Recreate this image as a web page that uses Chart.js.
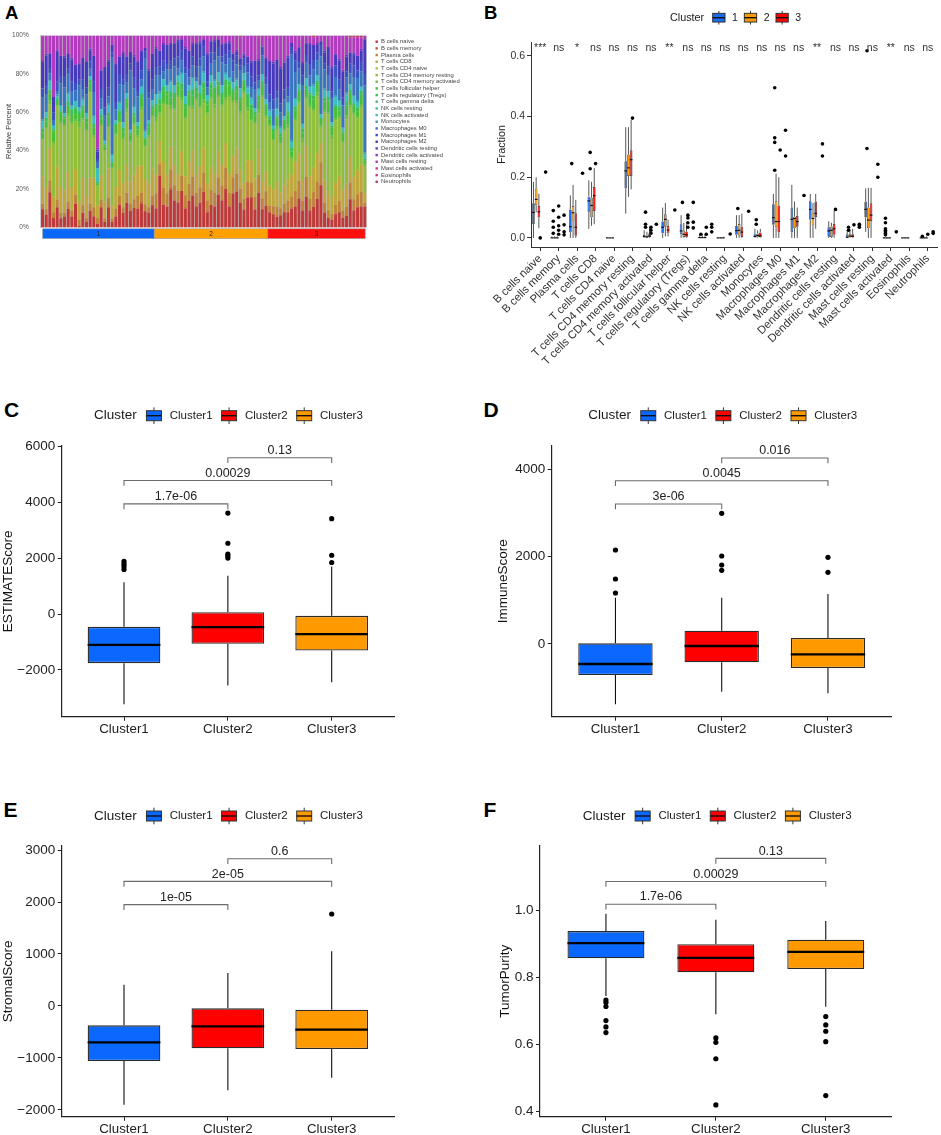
<!DOCTYPE html>
<html><head><meta charset="utf-8">
<script src="https://cdn.jsdelivr.net/npm/chart.js@4/dist/chart.umd.min.js"></script>
<style>
html,body{margin:0;padding:0;background:#fff}
body{width:941px;height:1135px;position:relative;overflow:hidden;font-family:'Liberation Sans',Arial,Helvetica,sans-serif}
.pnl{position:absolute}
.lab{position:absolute;font-weight:bold;line-height:1;color:#000}
</style></head><body>
<div class="lab" style="left:5px;top:4.3px;font-size:18.5px">A</div>
<div class="lab" style="left:484px;top:3.6px;font-size:18.5px">B</div>
<div class="lab" style="left:4px;top:399px;font-size:21px">C</div>
<div class="lab" style="left:483.5px;top:399px;font-size:21px">D</div>
<div class="lab" style="left:3.5px;top:799px;font-size:21px">E</div>
<div class="lab" style="left:483.5px;top:799px;font-size:21px">F</div>
<div class="pnl" style="left:0;top:0;width:470px;height:250px"><canvas id="cA"></canvas></div>
<div class="pnl" style="left:470px;top:0;width:471px;height:372px"><canvas id="cB"></canvas></div>
<div class="pnl" style="left:0;top:372px;width:470px;height:388px"><canvas id="cC"></canvas></div>
<div class="pnl" style="left:470px;top:372px;width:471px;height:388px"><canvas id="cD"></canvas></div>
<div class="pnl" style="left:0;top:770px;width:470px;height:365px"><canvas id="cE"></canvas></div>
<div class="pnl" style="left:470px;top:770px;width:471px;height:365px"><canvas id="cF"></canvas></div>
<script>
const FONT = "'Liberation Sans', Arial, Helvetica, sans-serif";

// ================= Panel A data (relative percent per sample) =================
const cellTypes = ['B cells naive','B cells memory','Plasma cells','T cells CD8','T cells CD4 naive',
  'T cells CD4 memory resting','T cells CD4 memory activated','T cells follicular helper',
  'T cells regulatory (Tregs)','T cells gamma delta','NK cells resting','NK cells activated',
  'Monocytes','Macrophages M0','Macrophages M1','Macrophages M2','Dendritic cells resting',
  'Dendritic cells activated','Mast cells resting','Mast cells activated','Eosinophils','Neutrophils'];
const cellColors = ['#bf3939','#bf5e39','#bf8239','#bfa739','#b3bf39','#8fbf39','#6abf39','#46bf39',
  '#39bf52','#39bf76','#39bf9b','#39bfbf','#399bbf','#3976bf','#3952bf','#4639bf','#6a39bf',
  '#8f39bf','#b339bf','#bf39a7','#bf3982','#bf395e'];
const clusterLabelsA = ['1','2','3'];
const clusterSizesA = [31, 31, 27];
const clusterColorsA = ['#0a68ff','#ffa000','#ff1010'];
const pctTicks = [0, 0.2, 0.4, 0.6, 0.8, 1];

const bCellsNaive = [10,7,19,5,11,5,6,10,6,13,1,8,3,9,6,2,11,3,11,3,6,13,8,14,9,11,10,13,9,8,12,
  10,27,12,11,20,14,13,19,10,14,17,11,13,19,8,12,11,17,14,20,11,19,20,14,10,17,17,10,19,10,12,
  9,8,6,7,9,9,10,11,15,9,16,9,11,15,22,8,5,4,7,8,5,6,15,9,11,11,11];
const bCellsMemory = [0,0,1,0,0,0,0,0,0,0,0,0,0,0,0,0,0,0,0,0,0,0,0,0,0,0,0,1,0,0,0,
  0,0,0,0,1,0,0,0,0,0,0,0,0,0,0,0,0,0,0,0,0,0,0,0,0,0,0,0,0,0,0,
  0,0,0,0,0,0,0,0,0,0,0,0,0,0,0,0,0,0,0,0,0,0,0,0,0,0,0];
const plasmaCells = [3,3,6,3,4,3,2,4,3,5,3,4,2,4,5,3,4,2,5,2,4,5,3,6,4,5,7,5,4,3,5,
  8,6,9,7,10,8,6,8,7,9,10,7,8,10,6,8,7,9,8,11,7,9,10,8,6,9,8,7,10,6,8,
  4,5,6,4,5,7,6,8,9,5,10,6,8,9,12,5,4,3,5,6,4,5,9,6,7,8,2];
const tCellsCD8 = [15,12,18,8,18,14,12,16,13,14,10,15,12,14,16,7,13,9,16,7,12,15,13,16,12,14,16,15,14,13,15,
  10,12,14,10,12,11,9,13,10,12,14,10,11,13,9,12,10,14,11,13,10,12,14,11,9,12,13,10,14,9,11,
  12,10,14,9,11,13,12,15,14,11,16,12,13,15,10,12,10,9,12,13,11,12,14,12,13,14,5];
const tCellsCD4Naive = [0,0,0,0,0,0,0,0,0,0,0,0,0,0,0,0,0,0,0,0,0,0,0,0,0,0,0,0,0,0,0,
  0,0,0,0,0,0,0,0,0,0,0,0,0,0,0,0,0,0,0,0,0,0,0,0,0,0,0,0,0,0,0,
  0,0,0,0,0,0,0,0,0,0,0,0,0,0,0,0,0,0,0,0,0,0,0,0,0,0,0];
const tCD4MemResting = [20,32,24,28,33,34,35,30,34,26,40,31,35,46,22,10,27,28,22,20,28,27,24,30,21,28,16,30,18,25,28,
  28,14,30,36,20,28,40,26,30,28,22,38,30,24,36,36,34,28,30,22,40,30,25,32,50,28,22,30,20,46,30,
  35,30,30,28,32,30,8,22,26,20,24,36,30,30,8,36,40,30,33,30,25,34,26,33,28,30,14];
const tCD4MemActivated = [1,1,2,1,0,1,1,2,1,1,3,1,1,1,1,0,1,0,1,0,1,1,1,2,1,1,1,2,1,1,1,
  2,1,1,1,2,1,1,2,1,1,2,1,1,2,1,1,2,1,1,2,1,1,2,1,1,2,1,1,2,1,1,
  1,1,2,1,1,2,1,1,1,2,1,1,1,2,1,1,1,2,1,1,1,2,1,1,1,2,1];
const tFollicularHelper = [3,3,4,5,2,4,3,4,5,3,4,5,4,4,4,1,3,2,5,2,4,4,3,4,3,4,3,5,3,4,3,
  5,4,6,5,4,6,5,4,5,6,5,4,5,6,4,5,6,5,4,6,5,4,5,6,4,5,6,4,5,6,4,
  3,4,5,3,4,6,3,4,5,3,4,6,5,4,3,5,6,4,5,3,4,5,6,4,3,5,2];
const tRegs = [2,2,2,1,2,2,1,2,2,3,2,2,2,2,2,1,2,1,2,1,1,2,2,2,1,2,2,2,1,2,2,
  2,3,2,2,3,2,2,3,2,2,3,2,2,3,2,2,3,2,2,3,2,2,3,2,2,3,2,2,3,2,2,
  2,2,1,2,2,1,2,2,1,2,2,1,2,2,1,2,2,1,2,2,1,2,2,1,2,2,1];
const tGammaDelta = [0,0,0,0,0,0,0,0,0,1,0,0,0,0,0,0,0,0,0,0,0,0,0,0,0,0,0,0,0,0,0,
  0,0,0,0,0,0,0,0,0,0,0,0,0,0,0,1,0,0,0,0,0,0,0,0,0,0,0,0,0,0,0,
  0,0,0,0,0,1,0,0,0,0,0,0,0,0,0,0,0,0,0,0,0,0,0,0,0,0,0];
const nkResting = [0,0,0,0,0,0,0,0,0,0,0,0,0,0,0,0,0,0,0,0,0,0,0,0,0,0,0,0,0,0,0,
  0,0,0,0,0,0,0,0,0,0,1,0,0,0,0,0,0,0,0,0,0,0,0,0,0,0,0,0,0,0,0,
  0,0,0,0,0,0,0,0,0,0,0,0,0,0,0,0,0,0,0,0,0,0,0,0,0,0,0];
const nkActivated = [4,3,5,2,1,3,2,4,2,3,2,3,3,2,4,7,3,2,4,4,2,4,3,3,2,3,2,4,3,2,3,
  5,3,4,3,5,4,3,5,4,3,5,3,4,5,3,4,3,5,4,3,2,4,3,5,4,3,4,2,3,4,3,
  3,2,4,3,2,5,3,4,3,2,4,3,5,3,2,4,3,2,4,3,2,4,3,4,3,2,2];
const monocytes = [1,0,0,0,1,0,0,1,0,0,0,1,0,0,1,0,0,0,1,0,0,1,0,0,0,1,0,0,1,0,0,
  0,1,0,0,1,0,0,1,0,0,1,0,0,1,0,0,1,0,0,1,0,0,1,0,0,1,0,0,1,0,0,
  1,0,0,1,0,0,1,0,0,1,0,0,1,0,0,1,0,0,1,0,0,1,0,0,1,0,1];
const macrophagesM0 = [12,10,4,3,2,12,14,10,8,6,12,5,10,4,12,3,6,14,4,52,6,10,20,6,32,10,14,4,40,12,6,
  10,8,4,8,6,10,4,6,12,4,6,2,10,8,4,6,10,8,12,4,10,6,8,10,4,8,6,10,4,10,8,
  4,10,6,8,10,4,45,14,8,20,8,6,8,8,30,10,8,12,10,6,12,8,6,10,12,8,35];
const macrophagesM1 = [5,4,3,4,5,4,6,3,5,4,3,5,4,4,6,2,5,4,5,3,4,6,3,5,4,6,3,5,4,3,5,
  4,5,6,3,5,4,6,5,3,4,5,6,4,5,3,6,4,5,3,5,4,6,5,3,4,5,6,4,3,5,4,
  5,6,4,5,6,5,4,6,3,5,4,6,5,4,6,3,5,4,6,5,4,3,5,6,4,5,6];
const macrophagesM2 = [14,17,8,8,16,11,10,8,12,10,8,12,14,6,14,4,10,22,14,4,20,10,14,10,6,12,16,10,2,12,14,
  10,8,8,10,8,8,8,6,10,10,6,12,8,4,14,6,6,4,6,6,4,4,2,4,2,4,8,12,8,0,10,
  20,22,18,20,16,18,2,4,8,6,6,10,8,4,2,6,10,12,6,10,14,8,6,6,8,6,18];
const dcResting = [1,1,0,0,1,0,1,0,1,0,1,0,0,1,0,1,0,0,1,0,1,0,1,0,0,1,0,1,0,1,0,
  1,0,1,0,1,0,1,0,1,0,1,0,1,0,1,0,1,0,1,0,1,0,1,0,1,0,1,0,1,0,1,
  0,1,0,1,0,1,0,1,0,1,0,1,0,1,0,1,0,1,0,1,0,1,0,1,0,1,0];
const dcActivated = [0,0,0,0,0,0,0,0,0,0,0,0,0,0,0,1,0,0,0,0,0,0,0,0,0,0,0,0,0,0,0,
  0,0,0,0,0,0,0,0,0,0,0,0,0,0,0,0,0,0,0,0,0,0,0,0,0,0,0,0,0,0,0,
  0,0,0,0,0,0,0,0,0,0,0,0,0,0,0,0,0,0,0,0,1,0,0,0,0,0,0];
const mastResting = [14,10,10,32,8,11,11,10,12,16,15,12,14,7,11,59,19,17,13,5,15,12,9,12,9,11,14,8,7,18,10,
  6,8,4,5,4,4,2,2,6,8,4,4,3,2,9,3,2,2,4,4,3,10,8,12,10,12,14,14,12,6,12,
  14,16,14,18,16,12,4,8,6,14,4,4,4,4,3,8,6,16,10,12,18,10,8,8,10,6,2];
const mastActivated = [0,0,0,0,0,0,0,0,0,0,0,0,0,0,0,0,0,0,0,0,0,0,0,0,0,0,0,0,0,0,0,
  0,0,0,0,0,0,0,0,0,0,0,0,0,0,0,0,0,0,0,0,0,0,0,0,0,0,0,0,0,0,0,
  1,0,0,0,0,0,0,0,0,0,0,0,0,0,0,0,0,0,0,0,0,0,0,0,0,0,0];
const eosinophils = [0,0,0,0,0,0,0,0,0,0,0,0,0,0,0,0,0,0,0,0,0,0,0,0,0,0,0,0,0,0,0,
  0,0,0,0,0,0,0,0,0,0,0,0,0,0,0,0,0,0,0,0,0,0,0,0,0,0,0,0,1,0,0,
  0,0,0,0,0,0,0,0,0,0,0,0,0,0,0,0,0,0,0,0,0,0,0,0,0,0,0];
const neutrophils = [0,0,0,0,0,0,0,0,0,0,0,0,0,0,0,0,0,0,0,0,0,0,0,0,0,0,0,0,0,0,0,
  0,0,0,0,0,0,0,0,0,0,0,0,0,0,0,0,0,0,0,0,0,0,0,1,0,0,0,0,0,0,0,
  0,0,0,0,0,0,0,0,0,0,0,0,1,0,0,0,0,0,0,0,0,0,1,1,1,1,0];

// ================= Panel B data (fraction boxplots) =================
const sigLabels = ['***','ns','*','ns','ns','ns','ns','**','ns','ns','ns','ns','ns','ns','ns','**','ns','ns','ns','**','ns','ns'];
const sigLevel = 0.627;
const fractionTicks = [0, 0.2, 0.4, 0.6];
const fracClusterLabels = ['1','2','3'];
const fracColors = ['#1a6cf5','#ff9a00','#ff0000'];

const frac1Low  = [0.0,0,0,0.03,0,0.08,0,0,0,0,0,0,0,0,0,0,0,0,0.02,0,0,0];
const frac1Q1   = [0.046,0,0.019,0.086,0,0.163,0.001,0.015,0.012,0,0,0.01,0.001,0.043,0.019,0.061,0.004,0,0.067,0,0,0];
const frac1Med  = [0.084,0,0.037,0.122,0,0.221,0.005,0.035,0.023,0.001,0,0.024,0.005,0.067,0.061,0.094,0.023,0.002,0.094,0,0,0];
const frac1Q3   = [0.114,0.002,0.094,0.136,0,0.253,0.01,0.054,0.045,0.004,0.001,0.039,0.014,0.111,0.1,0.121,0.035,0.012,0.12,0.001,0,0.002];
const frac1High = [0.185,0.005,0.14,0.19,0,0.365,0.025,0.1,0.075,0.01,0.003,0.075,0.03,0.145,0.175,0.145,0.055,0.025,0.163,0.003,0,0.004];
const frac1Out  = [[],[0.09,0.055,0.035,0.015],[0.245],[0.282,0.228],[],[],[0.085,0.045,0.035],[],[0.117],[0.012],[],[0.097],
  [0.06,0.045],[0.495,0.33,0.315,0.223],[],[],[],[0.035,0.025],[0.617,0.295],[0.065,0.05,0.03,0.025,0.02,0.015,0.01],[],[0.005]];

const frac2Low  = [0.085,0,0,0.04,0,0.135,0,0.005,0,0,0,0,0,0,0,0,0,0,0,0,0,0];
const frac2Q1   = [0.108,0,0.054,0.068,0,0.204,0,0.037,0.003,0,0,0.008,0.002,0.035,0.032,0.041,0.003,0.002,0.032,0,0,0];
const frac2Med  = [0.127,0,0.083,0.107,0,0.231,0.003,0.061,0.012,0.001,0,0.025,0.008,0.054,0.064,0.064,0.025,0.006,0.059,0,0,0];
const frac2Q3   = [0.163,0.002,0.105,0.133,0,0.275,0.008,0.078,0.024,0.003,0.001,0.046,0.014,0.121,0.07,0.084,0.038,0.012,0.1,0.001,0,0.001];
const frac2High = [0.2,0.005,0.175,0.185,0,0.365,0.02,0.115,0.05,0.008,0.003,0.075,0.025,0.212,0.12,0.115,0.05,0.03,0.165,0.002,0,0.003];
const frac2Out  = [[0.0],[0.105,0.068,0.04,0.025,0.012],[],[0.245],[],[0.395],[0.035,0.025,0.015],[],[0.075,0.066,0.05,0.035],[0.035,0.012],[],[],
  [],[0.29],[],[],[0.094],[0.043],[],[],[],[0.012]];

const frac3Low  = [0.032,0,0,0.045,0,0.16,0,0.005,0,0,0,0,0,0,0,0.03,0,0,0,0,0,0];
const frac3Q1   = [0.067,0,0.007,0.089,0,0.204,0.002,0.015,0.002,0,0,0.003,0.002,0.019,0.037,0.069,0.01,0.001,0.056,0,0,0];
const frac3Med  = [0.086,0,0.035,0.139,0,0.258,0.006,0.026,0.01,0.001,0,0.019,0.007,0.054,0.054,0.081,0.03,0.005,0.075,0,0,0];
const frac3Q3   = [0.105,0.002,0.081,0.168,0,0.289,0.015,0.039,0.021,0.004,0.001,0.037,0.018,0.107,0.072,0.12,0.046,0.012,0.114,0.001,0,0.002];
const frac3High = [0.146,0.005,0.125,0.23,0,0.39,0.035,0.06,0.045,0.01,0.004,0.08,0.03,0.2,0.1,0.145,0.09,0.03,0.165,0.003,0,0.005];
const frac3Out  = [[0.217],[0.075,0.043,0.02,0.01],[0.213],[],[],[],[0.045],[0.092],[0.117,0.052,0.033],[0.045,0.035,0.02],[0.013],[0.088],
  [],[0.355,0.27],[0.14],[0.31,0.27],[],[0.045,0.04,0.035],[0.243,0.2],[0.02],[],[0.02,0.015]];

// ================= Panels C-F data =================
const scoreClusters = ['Cluster1','Cluster2','Cluster3'];
const clusterPositions = [1, 2, 3];
const scoreColors = ['#0a68ff','#ff0000','#ff9900'];
const bracketPairs = [[1,2],[1,3],[2,3]];

const estLow = [-3224,-2555,-2436], estQ1 = [-1755,-1063,-1301], estMed = [-1099,-466,-716],
      estQ3 = [-454,72,-60], estHigh = [1146,1373,1707];
const estOut = [[1890,1790,1700,1600],[3620,2540,2150,2080,2010],[3420,2110,1850]];
const estBracketY = [3953,4788,5602], estP = ['1.7e-06','0.00029','0.13'];
const estTicks = [-2000,0,2000,4000,6000];

const immLow = [-1379,-1090,-1128], immQ1 = [-709,-419,-549], immMed = [-457,-46,-236],
      immQ3 = [15,305,137], immHigh = [1059,1059,1143];
const immOut = [[2149,1486,1166],[2987,2011,1806,1684],[1981,1638]];
const immBracketY = [3200,3733,4251], immP = ['3e-06','0.0045','0.016'];
const immTicks = [0,2000,4000];

const strLow = [-1897,-1622,-1378], strQ1 = [-1058,-814,-827], strMed = [-699,-391,-455],
      strQ3 = [-372,-45,-71], strHigh = [410,635,1051];
const strOut = [[],[],[1769]];
const strBracketY = [1949,2397,2833], strP = ['1e-05','2e-05','0.6'];
const strTicks = [-2000,-1000,0,1000,2000,3000];

const purLow = [0.745,0.691,0.713], purQ1 = [0.858,0.816,0.826], purMed = [0.903,0.859,0.877],
      purQ3 = [0.939,0.9,0.913], purHigh = [0.991,0.973,0.969];
const purOut = [[0.733,0.726,0.714,0.672,0.653,0.636],[0.62,0.607,0.558,0.42],[0.684,0.659,0.64,0.609,0.448]];
const purBracketY = [1.019,1.087,1.156], purP = ['1.7e-06','0.00029','0.13'];
const purTicks = [0.4,0.6,0.8,1.0];

// ================= plugins =================
function drawBoxParts(chart, medians) {
  const ctx = chart.ctx;
  chart.data.datasets.forEach((ds, di) => {
    const st = ds.boxStats;
    if (!st) return;
    const meta = chart.getDatasetMeta(di);
    const ys = chart.scales[meta.yAxisID];
    ctx.save();
    meta.data.forEach((el, i) => {
      const p = el.getProps(['x', 'width'], true);
      ctx.beginPath();
      if (medians) {
        const y = ys.getPixelForValue(st.med[i]);
        ctx.moveTo(p.x - p.width / 2, y); ctx.lineTo(p.x + p.width / 2, y);
        ctx.strokeStyle = st.medianColor; ctx.lineWidth = st.medianWidth;
      } else {
        ctx.moveTo(p.x, ys.getPixelForValue(st.high[i])); ctx.lineTo(p.x, ys.getPixelForValue(st.q3[i]));
        ctx.moveTo(p.x, ys.getPixelForValue(st.q1[i])); ctx.lineTo(p.x, ys.getPixelForValue(st.low[i]));
        ctx.strokeStyle = st.whiskerColor; ctx.lineWidth = st.whiskerWidth;
      }
      ctx.stroke();
    });
    ctx.restore();
  });
}
const boxParts = {
  id: 'boxParts',
  beforeDatasetsDraw(chart) { drawBoxParts(chart, false); },
  afterDatasetsDraw(chart) { drawBoxParts(chart, true); }
};
const areaFill = {
  id: 'areaFill',
  beforeDatasetsDraw(chart, args, opts) {
    if (!opts || !opts.color) return;
    const a = chart.chartArea, ctx = chart.ctx;
    ctx.save(); ctx.fillStyle = opts.color;
    ctx.fillRect(a.left, a.top, a.right - a.left, a.bottom - a.top);
    ctx.restore();
  }
};
const textMarks = {
  id: 'textMarks',
  afterDatasetsDraw(chart, args, opts) {
    if (!opts || !opts.items) return;
    const ctx = chart.ctx;
    const xs = chart.scales[opts.xAxis || 'x'], ys = chart.scales.y;
    ctx.save();
    ctx.font = opts.size + 'px ' + FONT;
    ctx.fillStyle = opts.color;
    ctx.textAlign = 'center'; ctx.textBaseline = 'middle';
    opts.items.forEach(it => ctx.fillText(it.text, xs.getPixelForValue(it.x), ys.getPixelForValue(it.y) + (opts.dy || 0)));
    ctx.restore();
  }
};
const clusterLegend = {
  id: 'clusterLegend',
  afterDraw(chart, args, o) {
    if (!o || !o.items) return;
    const ctx = chart.ctx;
    ctx.save();
    ctx.textBaseline = 'middle'; ctx.textAlign = 'left';
    ctx.fillStyle = '#1a1a1a';
    ctx.font = o.titleSize + 'px ' + FONT;
    let x = o.x; const y = o.y;
    ctx.fillText(o.title, x, y);
    x += ctx.measureText(o.title).width + o.gapTitle;
    ctx.font = o.itemSize + 'px ' + FONT;
    o.items.forEach(it => {
      const w = o.gw, h = o.gh, cx = x + w / 2;
      ctx.strokeStyle = '#333'; ctx.lineWidth = 1;
      ctx.beginPath();
      ctx.moveTo(cx, y - h / 2 - o.stub); ctx.lineTo(cx, y - h / 2);
      ctx.moveTo(cx, y + h / 2); ctx.lineTo(cx, y + h / 2 + o.stub);
      ctx.stroke();
      ctx.fillStyle = it.color; ctx.fillRect(x, y - h / 2, w, h);
      ctx.strokeRect(x, y - h / 2, w, h);
      ctx.beginPath(); ctx.lineWidth = 1.4; ctx.strokeStyle = '#111';
      ctx.moveTo(x, y); ctx.lineTo(x + w, y); ctx.stroke();
      x += w + o.gapGlyph;
      ctx.fillStyle = '#1a1a1a';
      ctx.fillText(it.label, x, y);
      x += ctx.measureText(it.label).width + o.gapItem;
    });
    ctx.restore();
  }
};
const panelAExtras = {
  id: 'panelAExtras',
  afterDraw(chart, args, o) {
    if (!o || !o.legendX) return;
    const ctx = chart.ctx, xs = chart.scales.x, a = chart.chartArea;
    ctx.save();
    const slot = xs.getPixelForValue(1) - xs.getPixelForValue(0);
    let start = 0;
    ctx.font = '6.5px ' + FONT; ctx.textAlign = 'center'; ctx.textBaseline = 'middle';
    clusterSizesA.forEach((n, c) => {
      const l = xs.getPixelForValue(start) - slot / 2 + (c === 0 ? 2 : 0);
      const r = xs.getPixelForValue(start + n - 1) + slot / 2 - (c === clusterSizesA.length - 1 ? 1.5 : 0);
      const top = a.bottom + 1.3, h = 9.8;
      ctx.fillStyle = clusterColorsA[c]; ctx.fillRect(l, top, r - l, h);
      ctx.strokeStyle = '#9a9a9a'; ctx.lineWidth = 0.6; ctx.strokeRect(l, top, r - l, h);
      ctx.fillStyle = '#222'; ctx.fillText(clusterLabelsA[c], (l + r) / 2, top + h / 2 + 0.3);
      start += n;
    });
    ctx.textAlign = 'left';
    ctx.font = o.fontSize + 'px ' + FONT;
    cellTypes.forEach((name, k) => {
      const y = o.legendY + k * o.step;
      ctx.fillStyle = cellColors[k];
      ctx.fillRect(o.legendX, y - o.box / 2, o.box, o.box);
      ctx.fillStyle = '#444';
      ctx.fillText(name, o.legendX + o.box + 3.2, y);
    });
    ctx.restore();
  }
};
Chart.register(boxParts, areaFill, textMarks, clusterLegend, panelAExtras);
Chart.defaults.font.family = FONT;
Chart.defaults.animation = false;
Chart.defaults.plugins.legend.display = false;
Chart.defaults.plugins.tooltip.enabled = false;

const minusFmt = v => (v < 0 ? '\u2212' + Math.abs(v) : String(v));

// ================= Panel A chart =================
const fractionTable = [bCellsNaive, bCellsMemory, plasmaCells, tCellsCD8, tCellsCD4Naive, tCD4MemResting,
  tCD4MemActivated, tFollicularHelper, tRegs, tGammaDelta, nkResting, nkActivated, monocytes, macrophagesM0,
  macrophagesM1, macrophagesM2, dcResting, dcActivated, mastResting, mastActivated, eosinophils, neutrophils];
const nSamples = bCellsNaive.length;
const sampleLabels = Array.from({length: nSamples}, (_, i) => 'S' + (i + 1));
const sampleTotals = sampleLabels.map((_, j) => fractionTable.reduce((s, arr) => s + (arr[j] || 0), 0));

new Chart(document.getElementById('cA'), {
  type: 'bar',
  data: {
    labels: sampleLabels,
    datasets: cellTypes.map((name, k) => ({
      label: name,
      data: sampleLabels.map((_, j) => (fractionTable[k][j] || 0) / sampleTotals[j]),
      backgroundColor: cellColors[k], borderWidth: 0, barPercentage: 0.82, categoryPercentage: 1
    }))
  },
  options: {
    responsive: true, maintainAspectRatio: false, events: [],
    layout: { padding: { left: 4.5, right: 103.3, top: 35.5, bottom: 22.5 } },
    scales: {
      x: { stacked: true, display: false, offset: true },
      y: {
        stacked: true, min: 0, max: 1,
        afterBuildTicks: s => { s.ticks = pctTicks.map(v => ({value: v})); },
        ticks: { callback: v => Math.round(v * 100) + '%', font: { size: 6.5 }, color: '#555', padding: 12 },
        grid: { display: false, drawTicks: false },
        border: { display: true, color: '#cfcfcf', width: 2 },
        title: { display: true, text: 'Relative Percent', font: { size: 7.5 }, color: '#333', padding: 0 },
        afterFit: s => { s.width = 36.2; }
      }
    },
    plugins: {
      areaFill: { color: '#c9c9c9' },
      panelAExtras: { legendX: 375.5, legendY: 41.7, step: 6.67, box: 2.4, fontSize: 5.9 }
    }
  }
});

// ================= Panel B chart =================
const fracStats = [
  { low: frac1Low, q1: frac1Q1, med: frac1Med, q3: frac1Q3, high: frac1High, out: frac1Out },
  { low: frac2Low, q1: frac2Q1, med: frac2Med, q3: frac2Q3, high: frac2High, out: frac2Out },
  { low: frac3Low, q1: frac3Q1, med: frac3Med, q3: frac3Q3, high: frac3High, out: frac3Out }
];
const catPctB = 0.88;
const bDatasets = [];
fracStats.forEach((st, k) => {
  bDatasets.push({
    type: 'bar', label: fracClusterLabels[k],
    data: st.q1.map((q, i) => [q, st.q3[i]]),
    backgroundColor: fracColors[k], borderColor: '#333', borderWidth: 0.7, borderSkipped: false,
    categoryPercentage: catPctB, barPercentage: 0.98, xAxisID: 'x', yAxisID: 'y',
    boxStats: { low: st.low, q1: st.q1, med: st.med, q3: st.q3, high: st.high,
      whiskerColor: '#444', whiskerWidth: 0.9, medianColor: '#111', medianWidth: 1.2 }
  });
});
fracStats.forEach((st, k) => {
  const pts = [];
  st.out.forEach((vals, i) => vals.forEach(v => pts.push({ x: i + (k - 1) * catPctB / 3, y: v })));
  bDatasets.push({ type: 'scatter', data: pts, xAxisID: 'xl', yAxisID: 'y',
    pointRadius: 1.8, pointBackgroundColor: '#000', pointBorderWidth: 0 });
});
new Chart(document.getElementById('cB'), {
  type: 'bar',
  data: { labels: cellTypes, datasets: bDatasets },
  options: {
    responsive: true, maintainAspectRatio: false, events: [],
    layout: { padding: { left: 25.4, right: 3, top: 42, bottom: 0 } },
    scales: {
      x: {
        type: 'category', offset: true,
        grid: { display: true, drawOnChartArea: false, drawTicks: true, tickLength: 4, offset: false, color: '#333' },
        border: { display: true, color: '#333', width: 1 },
        ticks: { autoSkip: false, minRotation: 45, maxRotation: 45, font: { size: 11.3 }, color: '#333', padding: 1 },
        afterFit: s => { s.height = 125; }
      },
      xl: { type: 'linear', display: false, min: -0.5, max: 21.5, offset: false, position: 'bottom' },
      y: {
        min: -0.03, max: 0.646,
        afterBuildTicks: s => { s.ticks = fractionTicks.map(v => ({value: v})); },
        ticks: { callback: v => v.toFixed(1), font: { size: 10.5 }, color: '#333', padding: 2 },
        grid: { display: true, drawOnChartArea: false, drawTicks: true, tickLength: 4, color: '#333' },
        border: { display: true, color: '#333', width: 1 },
        title: { display: true, text: 'Fraction', font: { size: 10.8 }, color: '#222', padding: 0 },
        afterFit: s => { s.width = 35.6; }
      }
    },
    plugins: {
      textMarks: { items: sigLabels.map((t, i) => ({ text: t, x: i, y: sigLevel })), size: 10.5, color: '#333', xAxis: 'x' },
      clusterLegend: { x: 200, y: 17.7, title: 'Cluster', titleSize: 10.8, itemSize: 10.5, gw: 12.3, gh: 8.7, stub: 2.5,
        gapTitle: 8.5, gapGlyph: 7, gapItem: 6.5,
        items: fracClusterLabels.map((l, k) => ({ label: l, color: fracColors[k] })) }
    }
  }
});

// ================= Panels C-F =================
function scorePanel(id, o) {
  const datasets = [{
    type: 'bar',
    data: clusterPositions.map((c, i) => ({ x: c, y: [o.q1[i], o.q3[i]] })),
    backgroundColor: scoreColors, borderColor: '#2b2b2b', borderWidth: 1.3, borderSkipped: false,
    categoryPercentage: 1, barPercentage: 0.7,
    boxStats: { low: o.low, q1: o.q1, med: o.med, q3: o.q3, high: o.high,
      whiskerColor: '#111', whiskerWidth: 1.1, medianColor: '#000', medianWidth: 2.3 }
  }];
  const pts = [];
  o.out.forEach((vals, i) => vals.forEach(v => pts.push({ x: clusterPositions[i], y: v })));
  datasets.push({ type: 'scatter', data: pts, pointRadius: 2.6, pointBackgroundColor: '#000', pointBorderWidth: 0 });
  bracketPairs.forEach((pr, b) => {
    const lv = o.br[b];
    datasets.push({ type: 'scatter', showLine: true, fill: false, pointRadius: 0,
      borderColor: '#6b6b6b', borderWidth: 1.1,
      data: [{ x: pr[0], y: lv - o.tip }, { x: pr[0], y: lv }, { x: pr[1], y: lv }, { x: pr[1], y: lv - o.tip }] });
  });
  const axisCommon = {
    grid: { display: true, drawOnChartArea: false, drawTicks: true, tickLength: 4, color: '#222', offset: false },
    border: { display: true, color: '#222', width: 1.2 }
  };
  new Chart(document.getElementById(id), {
    type: 'bar',
    data: { datasets },
    options: {
      responsive: true, maintainAspectRatio: false, events: [],
      layout: { padding: o.pad },
      scales: {
        x: Object.assign({
          type: 'linear', min: 0.4, max: 3.6, offset: false,
          afterBuildTicks: s => { s.ticks = clusterPositions.map(v => ({value: v})); },
          ticks: { callback: v => scoreClusters[v - 1], font: { size: 13.3 }, color: '#222', padding: 1, autoSkip: false, maxRotation: 0 },
          afterFit: s => { s.height = o.xH; }
        }, axisCommon),
        y: Object.assign({
          type: 'linear', min: o.min, max: o.max,
          afterBuildTicks: s => { s.ticks = o.ticks.map(v => ({value: v})); },
          ticks: { callback: o.fmt, font: { size: 13.5 }, color: '#222', padding: 2.5 },
          title: { display: true, text: o.title, font: { size: 13.5 }, color: '#111', padding: 0 },
          afterFit: s => { s.width = o.yW; }
        }, axisCommon)
      },
      plugins: {
        textMarks: { items: bracketPairs.map((pr, b) => ({ text: o.p[b], x: (pr[0] + pr[1]) / 2, y: o.br[b] })),
          size: 12.5, color: '#222', dy: -7.3, xAxis: 'x' },
        clusterLegend: { x: o.legX, y: o.legY, title: 'Cluster', titleSize: 13.5, itemSize: 11.5, gw: 15, gh: 10, stub: 3.3,
          gapTitle: 9.7, gapGlyph: 8.3, gapItem: 9,
          items: scoreClusters.map((l, k) => ({ label: l, color: scoreColors[k] })) }
      }
    }
  });
}

scorePanel('cC', { low: estLow, q1: estQ1, med: estMed, q3: estQ3, high: estHigh, out: estOut,
  br: estBracketY, p: estP, tip: 190, min: -3674, max: 6025, ticks: estTicks, fmt: minusFmt,
  title: 'ESTIMATEScore', pad: { left: 0, right: 76, top: 74, bottom: 9.3 }, yW: 61.7, xH: 34, legX: 94, legY: 43.7 });
scorePanel('cD', { low: immLow, q1: immQ1, med: immMed, q3: immQ3, high: immHigh, out: immOut,
  br: immBracketY, p: immP, tip: 121, min: -1662, max: 4526, ticks: immTicks, fmt: minusFmt,
  title: 'ImmuneScore', pad: { left: 24.9, right: 49.3, top: 74, bottom: 9.3 }, yW: 56.8, xH: 34, legX: 118.3, legY: 43.7 });
scorePanel('cE', { low: strLow, q1: strQ1, med: strMed, q3: strQ3, high: strHigh, out: strOut,
  br: strBracketY, p: strP, tip: 102, min: -2129, max: 3077, ticks: strTicks, fmt: minusFmt,
  title: 'StromalScore', pad: { left: 0, right: 76, top: 76, bottom: 0 }, yW: 61.7, xH: 18.3, legX: 94, legY: 46 });
scorePanel('cF', { low: purLow, q1: purQ1, med: purMed, q3: purQ3, high: purHigh, out: purOut,
  br: purBracketY, p: purP, tip: 0.0158, min: 0.385, max: 1.193, ticks: purTicks, fmt: v => v.toFixed(1),
  title: 'TumorPurity', pad: { left: 26.9, right: 49.3, top: 76, bottom: 0 }, yW: 43.1, xH: 18.3, legX: 112.7, legY: 46 });
</script>
</body></html>
